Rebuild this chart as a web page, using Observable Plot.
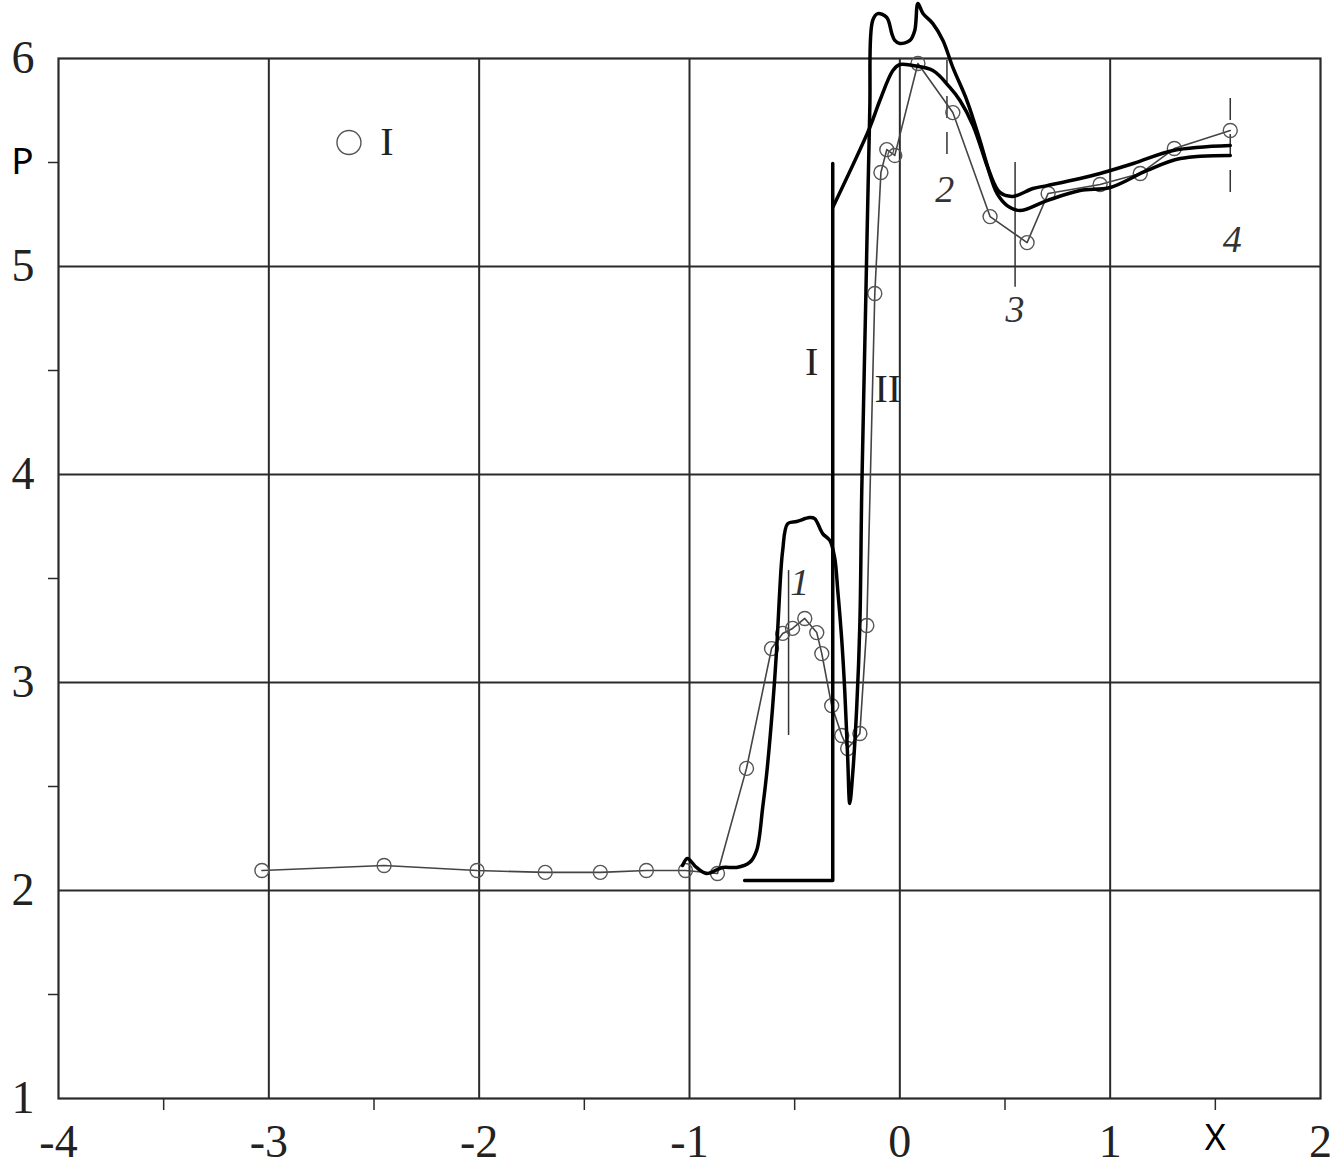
<!DOCTYPE html>
<html><head><meta charset="utf-8">
<script src="https://cdn.jsdelivr.net/npm/d3@7"></script>
<script src="https://cdn.jsdelivr.net/npm/@observablehq/plot@0.6"></script>
<style>
body{margin:0;background:#fff}
g[aria-label="x-axis tick label"] text, g[aria-label="y-axis tick label"] text, g[aria-label="x-axis tick label"], g[aria-label="y-axis tick label"] {font-family:"Liberation Serif", serif !important;}
.sans text, .sans {font-family:"Noto Sans", sans-serif !important;}
.serif text, .serif {font-family:"Liberation Serif", serif !important;}
</style>
</head><body><div id="chart"></div>
<script>
// axis ticks
const xTicks = [-4, -3, -2, -1, 0, 1, 2];
const yTicks = [1, 2, 3, 4, 5, 6];
const xHalfTicks = [-3.5, -2.5, -1.5, -0.5, 0.5, 1.5];
const yHalfTicks = [1.5, 2.5, 3.5, 4.5, 5.5];
const xGrid = [-3, -2, -1, 0, 1];
const yGrid = [2, 3, 4, 5];

// experiment (circles, series I)
const circleX = [-3.033, -2.452, -2.010, -1.686, -1.424, -1.205, -1.019, -0.867, -0.729, -0.610, -0.557, -0.510, -0.452, -0.395, -0.371, -0.324, -0.276, -0.248, -0.190, -0.157, -0.119, -0.090, -0.062, -0.024, 0.086, 0.252, 0.429, 0.605, 0.705, 0.952, 1.143, 1.305, 1.571];
const circleP = [2.096, 2.120, 2.096, 2.087, 2.087, 2.096, 2.096, 2.082, 2.587, 3.163, 3.236, 3.260, 3.308, 3.240, 3.139, 2.889, 2.745, 2.683, 2.755, 3.274, 4.870, 5.452, 5.562, 5.534, 5.976, 5.740, 5.240, 5.115, 5.351, 5.394, 5.447, 5.567, 5.654];

// computed curve with spikes
const curveAX = [-1.033, -1.010, -0.967, -0.919, -0.843, -0.776, -0.714, -0.681, -0.652, -0.633, -0.605, -0.586, -0.571, -0.557, -0.533, -0.490, -0.429, -0.405, -0.367, -0.333, -0.310, -0.295, -0.276, -0.262, -0.248, -0.238, -0.224, -0.205, -0.190, -0.181, -0.162, -0.143, -0.129, -0.105, -0.062, -0.038, -0.024, 0.000, 0.048, 0.071, 0.086, 0.110, 0.157, 0.205, 0.252, 0.319, 0.381, 0.429, 0.476, 0.538, 0.633, 0.700, 0.857, 0.952, 1.110, 1.300, 1.571];
const curveAP = [2.120, 2.154, 2.111, 2.082, 2.111, 2.111, 2.135, 2.192, 2.399, 2.562, 2.880, 3.154, 3.442, 3.635, 3.764, 3.774, 3.793, 3.788, 3.716, 3.683, 3.601, 3.442, 3.202, 2.962, 2.639, 2.418, 2.562, 2.880, 3.284, 3.923, 4.837, 5.750, 6.183, 6.216, 6.197, 6.120, 6.087, 6.072, 6.087, 6.135, 6.264, 6.216, 6.168, 6.087, 5.957, 5.798, 5.606, 5.447, 5.356, 5.337, 5.375, 5.389, 5.423, 5.447, 5.495, 5.558, 5.582];

// step profile I
const stepX = [-0.738, -0.319, -0.319];
const stepP = [2.048, 2.048, 5.495];

// smooth curve following the step
const curveBX = [-0.319, -0.143, -0.095, -0.033, 0.000, 0.062, 0.157, 0.238, 0.286, 0.348, 0.414, 0.462, 0.510, 0.571, 0.700, 0.857, 1.000, 1.176, 1.333, 1.571];
const curveBP = [5.284, 5.668, 5.798, 5.942, 5.971, 5.966, 5.942, 5.861, 5.798, 5.678, 5.486, 5.351, 5.293, 5.269, 5.317, 5.365, 5.380, 5.462, 5.519, 5.534];

// section markers
const markerNames = ["1", "2", "3", "4"];
const markerX = [-0.529, 0.224, 0.548, 1.571];
const markerTop = [3.538, 5.990, 5.500, 5.808];
const markerBottom = [2.745, 5.490, 4.900, 5.293];
const markerDash = [false, true, false, true];
const markerLabelX = [-0.476, 0.214, 0.548, 1.581];
const markerLabelP = [3.48, 5.37, 4.79, 5.13];

// text labels
const labelText = ["I", "II"];
const labelX = [-0.419, -0.057];
const labelP = [4.54, 4.41];

const legendX = [-2.619];
const legendP = [5.596];

const zip = (xs, ps) => xs.map((x, i) => ({x, p: ps[i]}));
const circles = zip(circleX, circleP);
const curveA = zip(curveAX, curveAP);
const step = zip(stepX, stepP);
const curveB = zip(curveBX, curveBP);
const markers = markerNames.map((n, i) => ({n, x: markerX[i], y1: markerTop[i], y2: markerBottom[i], dash: markerDash[i], lx: markerLabelX[i], lp: markerLabelP[i]}));
const labels = labelText.map((t, i) => ({t, x: labelX[i], p: labelP[i]}));

const serif = "Liberation Serif";
const gridColor = "#2a2a2a";

const chart = Plot.plot({
  width: 1333,
  height: 1173,
  marginLeft: 58,
  marginRight: 13,
  marginTop: 58,
  marginBottom: 75,
  x: {domain: [-4, 2]},
  y: {domain: [1, 6]},
  style: {background: "#fff", fontFamily: serif},
  marks: [
    Plot.gridX(xGrid, {stroke: gridColor, strokeOpacity: 1, strokeWidth: 2}),
    Plot.gridY(yGrid, {stroke: gridColor, strokeOpacity: 1, strokeWidth: 2}),
    Plot.frame({stroke: gridColor, strokeWidth: 2.2}),
    Plot.axisX(xHalfTicks, {tickSize: 12, tickFormat: () => "", stroke: gridColor, strokeWidth: 1.5}),
    Plot.axisY(yHalfTicks, {tickSize: 10, tickFormat: () => "", stroke: gridColor, strokeWidth: 1.5}),
    Plot.axisX(xTicks, {tickSize: 0, tickPadding: 26, fontSize: 46, fontFamily: serif, fill: "#222", tickFormat: d => String(d), label: null}),
    Plot.axisY(yTicks, {tickSize: 0, tickPadding: 24, fontSize: 46, fontFamily: serif, fill: "#222", tickFormat: d => String(d), label: null}),
    Plot.text(["P"], {x: [-4], y: [5.5], dx: -36, text: d => d, fontSize: 37, fontFamily: "Noto Sans", fill: "#000", className: "sans"}),
    Plot.text(["X"], {x: [1.5], y: [1], dy: 40, text: d => d, fontSize: 36, fontFamily: "Noto Sans", fill: "#000", className: "sans"}),
    // markers
    Plot.ruleX(markers.filter(d => !d.dash), {x: "x", y1: "y1", y2: "y2", stroke: "#333", strokeWidth: 1.5}),
    Plot.ruleX(markers.filter(d => d.dash), {x: "x", y1: "y1", y2: "y2", stroke: "#333", strokeWidth: 1.5, strokeDasharray: "22 14"}),
    Plot.text(markers, {x: "lx", y: "lp", text: "n", fontSize: 38, fontStyle: "italic", fontFamily: serif, fill: "#333", className: "serif"}),
    // experiment
    Plot.line(circles, {x: "x", y: "p", stroke: "#444", strokeWidth: 1.6}),
    Plot.dot(circles, {x: "x", y: "p", r: 7, stroke: "#555", strokeWidth: 1.4, fill: "none"}),
    // computed curves
    Plot.line(curveA, {x: "x", y: "p", stroke: "#000", strokeWidth: 3.5, curve: "catmull-rom", strokeLinejoin: "round"}),
    Plot.line(step, {x: "x", y: "p", stroke: "#000", strokeWidth: 3.5, curve: "linear"}),
    Plot.line(curveB, {x: "x", y: "p", stroke: "#000", strokeWidth: 3.5, curve: "catmull-rom"}),
    // labels
    Plot.text(labels, {x: "x", y: "p", text: "t", fontSize: 40, fontFamily: serif, fill: "#222", className: "serif"}),
    // legend
    Plot.dot(legendX.map((x, i) => ({x, p: legendP[i]})), {x: "x", y: "p", r: 12, stroke: "#555", strokeWidth: 1.4, fill: "none"}),
    Plot.text(["I"], {x: legendX, y: legendP, dx: 38, text: d => d, fontSize: 40, fontFamily: serif, fill: "#222", className: "serif"})
  ]
});
document.getElementById("chart").appendChild(chart);
</script>
</body></html>
